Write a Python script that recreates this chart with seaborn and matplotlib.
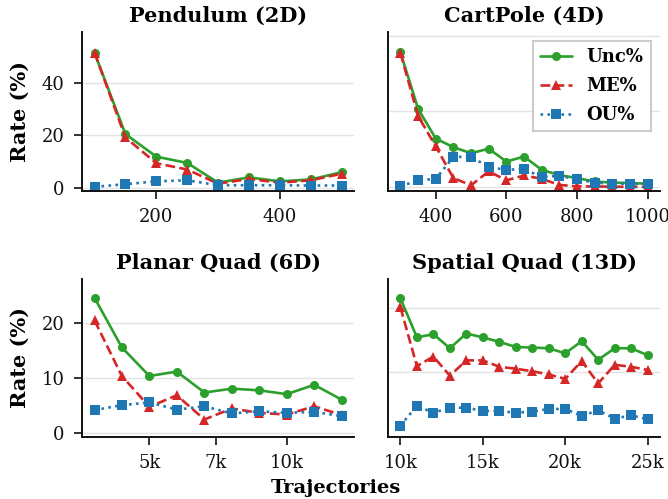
import matplotlib
matplotlib.use("Agg")
import matplotlib.pyplot as plt
import seaborn as sns
import pandas as pd
from matplotlib.ticker import FuncFormatter, NullLocator, FixedLocator

# ---------------- data ----------------
titles = ["Pendulum (2D)", "CartPole (4D)", "Planar Quad (6D)", "Spatial Quad (13D)"]
series_names = ["Unc%", "ME%", "OU%"]

pend_x = [100, 150, 200, 250, 300, 350, 400, 450, 500]
pend_unc = [51.5, 20.5, 11.9, 9.5, 2.0, 4.0, 2.5, 3.2, 6.0]
pend_me = [51.5, 19.2, 9.4, 7.0, 1.6, 3.4, 2.0, 2.9, 5.4]
pend_ou = [0.4, 1.4, 2.5, 2.9, 1.0, 1.0, 1.0, 0.9, 0.9]

cart_x = [300, 350, 400, 450, 500, 550, 600, 650, 700, 750, 800, 850, 900, 950, 1000]
cart_unc = [35.7, 20.7, 12.8, 10.5, 8.9, 10.1, 6.7, 8.0, 4.5, 3.1, 2.3, 1.4, 1.1, 1.0, 0.8]
cart_me = [35.5, 18.8, 10.7, 2.3, 0.4, 4.1, 1.7, 3.0, 2.1, 0.5, 0.1, 0.1, 0.0, 0.0, 0.0]
cart_ou = [0.1, 1.7, 2.1, 7.9, 8.0, 5.2, 4.5, 4.7, 2.6, 2.9, 2.0, 1.1, 0.8, 0.8, 0.8]

planar_x = [3790, 4350, 5000, 5740, 6600, 7580, 8710, 10000, 11490, 13200]
planar_unc = [24.6, 15.6, 10.4, 11.2, 7.4, 8.1, 7.8, 7.1, 8.8, 6.1]
planar_me = [20.5, 10.4, 4.8, 6.9, 2.5, 4.5, 3.7, 3.4, 4.9, 3.3]
planar_ou = [4.2, 5.1, 5.6, 4.3, 4.9, 3.6, 4.0, 3.7, 3.9, 3.1]

spatial_x = [10000, 11000, 12000, 13000, 14000, 15000, 16000, 17000,
             18000, 19000, 20000, 21000, 22000, 23000, 24000, 25000]
spatial_unc = [21.5, 15.4, 15.9, 13.7, 16.0, 15.4, 14.7, 13.9,
               13.8, 13.7, 12.9, 14.8, 11.9, 13.7, 13.7, 12.6]
spatial_me = [20.1, 10.9, 12.4, 9.4, 11.8, 11.8, 10.8, 10.5,
              10.1, 9.6, 8.9, 11.7, 8.2, 11.1, 10.8, 10.3]
spatial_ou = [1.6, 4.7, 3.6, 4.4, 4.4, 3.9, 3.9, 3.6,
              3.8, 4.2, 4.2, 3.1, 4.0, 2.7, 3.2, 2.6]

pend_xticks = [200, 400]
cart_xticks = [400, 600, 800, 1000]
planar_xticks = [5000, 7000, 10000]
spatial_xticks = [10000, 15000, 20000, 25000]

# ---------------- style ----------------
sns.set_style("ticks")
plt.rcParams["font.family"] = ["DejaVu Serif"]
plt.rcParams["axes.edgecolor"] = "#111111"
plt.rcParams["text.color"] = "black"
plt.rcParams["axes.labelcolor"] = "black"
plt.rcParams["xtick.color"] = "#111111"
plt.rcParams["ytick.color"] = "#111111"

colors = {"Unc%": "#2ca02c", "ME%": "#d62728", "OU%": "#1f77b4"}
markers = {"Unc%": "o", "ME%": "^", "OU%": "s"}
styles = {"Unc%": "-", "ME%": "--", "OU%": ":"}

panels = [
    (pend_x, [pend_unc, pend_me, pend_ou], pend_xticks, (-1, 59.4), [0, 20, 40], False),
    (cart_x, [cart_unc, cart_me, cart_ou], cart_xticks, (-1, 41.1), [0, 20, 40], False),
    (planar_x, [planar_unc, planar_me, planar_ou], planar_xticks, (-0.7, 28.1), [0, 10, 20], True),
    (spatial_x, [spatial_unc, spatial_me, spatial_ou], spatial_xticks, (-0.2, 24.6), [0, 10, 20], True),
]

fig, axes = plt.subplots(2, 2, figsize=(6.68, 4.99), dpi=100)
plt.subplots_adjust(left=0.123, right=0.988, top=0.936, bottom=0.124,
                    wspace=0.125, hspace=0.555)

kfmt = FuncFormatter(lambda v, p: f"{v/1000:.0f}k")

for i, (ax, (xs, ys, xt, yl, yt, kilo)) in enumerate(zip(axes.flat, panels)):
    for name, yv in zip(series_names, ys):
        df = pd.DataFrame({"x": xs, "y": yv})
        sns.lineplot(data=df, x="x", y="y", ax=ax, color=colors[name],
                     marker=markers[name], linestyle=styles[name],
                     linewidth=1.9, markersize=6.5, markeredgewidth=0,
                     label=name, legend=False)
    if i == 2:
        ax.set_xscale("log")
        ax.xaxis.set_minor_locator(NullLocator())
    ax.xaxis.set_major_locator(FixedLocator(xt))
    if kilo:
        ax.xaxis.set_major_formatter(kfmt)
    ax.set_ylim(*yl)
    ax.set_yticks(yt)
    ax.yaxis.grid(True, color="#e3e3e3", linewidth=1.0)
    ax.set_axisbelow(True)
    ax.set_xlabel("")
    ax.set_title(titles[i], fontsize=15, fontweight="bold", pad=7, color="black")
    ax.tick_params(axis="both", labelsize=13, width=1.2, length=5.5, pad=7,
                   labelcolor="#111111")
    for s in ["left", "bottom"]:
        ax.spines[s].set_linewidth(1.4)
    sns.despine(ax=ax)
    if i % 2 == 0:
        ax.set_ylabel("Rate (%)", fontsize=15, fontweight="bold", labelpad=9)
    else:
        ax.set_ylabel("")
        ax.tick_params(axis="y", left=False, labelleft=False)

handles, labels = axes[0, 1].get_legend_handles_labels()
leg = axes[0, 1].legend(handles, labels, loc="upper right", fancybox=False,
                        prop={"size": 13, "weight": "bold"}, framealpha=1,
                        edgecolor="#cccccc", handlelength=1.8, labelspacing=0.6)
leg.get_frame().set_linewidth(1.5)

fig.text(0.503, 0.022, "Trajectories", ha="center", va="center",
         fontsize=14, fontweight="bold")

fig.savefig("out.png", dpi=100)
